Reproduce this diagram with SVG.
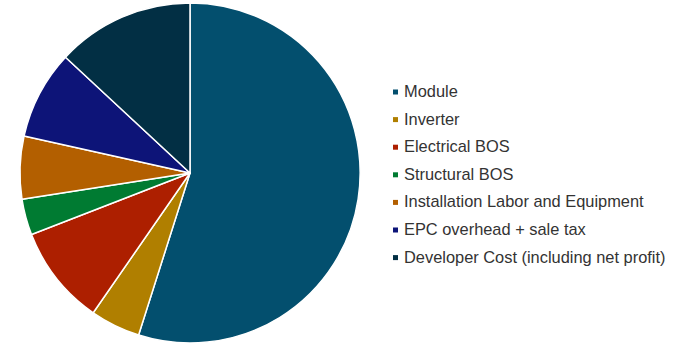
<svg xmlns="http://www.w3.org/2000/svg" width="674" height="344" viewBox="0 0 674 344">
<style>
.sl{stroke:#fff;stroke-width:1.5;stroke-linejoin:round}
.lg{font-family:"Liberation Sans",Arial,sans-serif;font-size:16.4px;fill:#333}
</style>
<rect width="674" height="344" fill="#fff"/>
<g id="pie">
<path id="s-module" class="sl" fill="#034f6e" d="M190,173 L190,3 A170,170 0 1,1 138.6,335 Z"/>
<path id="s-inverter" class="sl" fill="#b07f00" d="M190,173 L138.6,335 A170,170 0 0,1 93.2,312.8 Z"/>
<path id="s-electrical" class="sl" fill="#ad1f00" d="M190,173 L93.2,312.8 A170,170 0 0,1 31.5,234.5 Z"/>
<path id="s-structural" class="sl" fill="#007b32" d="M190,173 L31.5,234.5 A170,170 0 0,1 22,199.3 Z"/>
<path id="s-installation" class="sl" fill="#b35f00" d="M190,173 L22,199.3 A170,170 0 0,1 24.1,135.9 Z"/>
<path id="s-epc" class="sl" fill="#0d1478" d="M190,173 L24.1,135.9 A170,170 0 0,1 65.5,57.3 Z"/>
<path id="s-developer" class="sl" fill="#022f44" d="M190,173 L65.5,57.3 A170,170 0 0,1 190,3 Z"/>
</g>
<g id="legend">
<g id="l-module"><rect x="393" y="89.5" width="5" height="5" fill="#034f6e"/><text class="lg" x="404" y="97">Module</text></g>
<g id="l-inverter"><rect x="393" y="117.1" width="5" height="5" fill="#b07f00"/><text class="lg" x="404" y="124.6">Inverter</text></g>
<g id="l-electrical"><rect x="393" y="144.7" width="5" height="5" fill="#ad1f00"/><text class="lg" x="404" y="152.2">Electrical BOS</text></g>
<g id="l-structural"><rect x="393" y="172.3" width="5" height="5" fill="#007b32"/><text class="lg" x="404" y="179.8">Structural BOS</text></g>
<g id="l-installation"><rect x="393" y="199.9" width="5" height="5" fill="#b35f00"/><text class="lg" x="404" y="207.4">Installation Labor and Equipment</text></g>
<g id="l-epc"><rect x="393" y="227.5" width="5" height="5" fill="#0d1478"/><text class="lg" x="404" y="235">EPC overhead + sale tax</text></g>
<g id="l-developer"><rect x="393" y="255.1" width="5" height="5" fill="#022f44"/><text class="lg" x="404" y="262.6">Developer Cost (including net profit)</text></g>
</g>
</svg>
